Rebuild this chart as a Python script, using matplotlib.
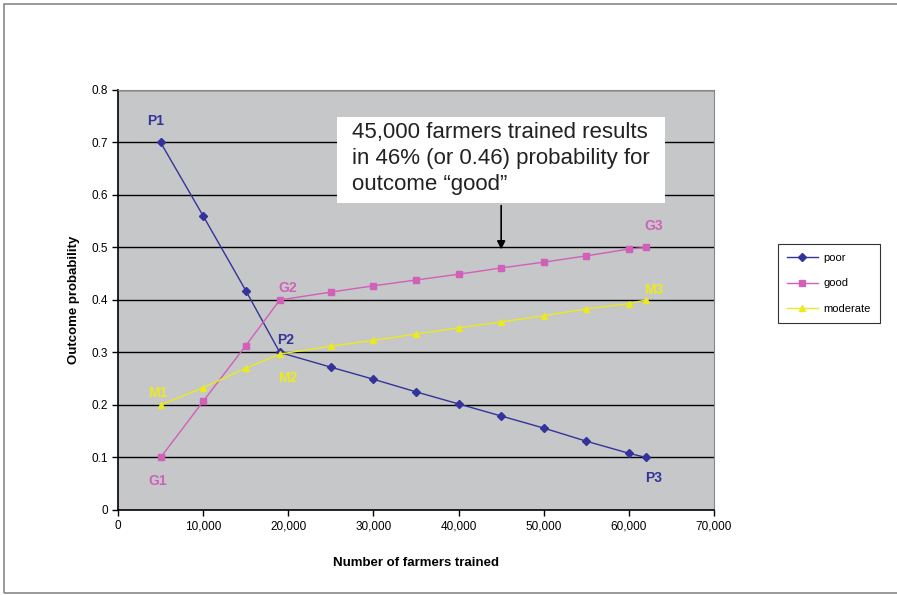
import matplotlib
matplotlib.use("Agg")
import matplotlib.pyplot as plt
from matplotlib.patches import Rectangle

farmers = [5000, 10000, 15000, 19000, 25000, 30000, 35000, 40000, 45000, 50000, 55000, 60000, 62000]
poor = [0.70, 0.56, 0.418, 0.30, 0.272, 0.249, 0.225, 0.202, 0.179, 0.156, 0.131, 0.108, 0.10]
good = [0.10, 0.207, 0.313, 0.40, 0.415, 0.427, 0.438, 0.449, 0.461, 0.472, 0.484, 0.497, 0.50]
moderate = [0.20, 0.233, 0.270, 0.297, 0.312, 0.323, 0.335, 0.347, 0.358, 0.370, 0.383, 0.393, 0.40]

xticks = [0, 10000, 20000, 30000, 40000, 50000, 60000, 70000]
xticklabels = ["0", "10,000", "20,000", "30,000", "40,000", "50,000", "60,000", "70,000"]
yticks = [0, 0.1, 0.2, 0.3, 0.4, 0.5, 0.6, 0.7, 0.8]
yticklabels = ["0", "0.1", "0.2", "0.3", "0.4", "0.5", "0.6", "0.7", "0.8"]

# point labels: (text, x, y, series)
point_labels = [
    ("P1", 5000, 0.70, "poor"), ("P2", 19000, 0.30, "poor"), ("P3", 62000, 0.10, "poor"),
    ("G1", 5000, 0.10, "good"), ("G2", 19000, 0.40, "good"), ("G3", 62000, 0.50, "good"),
    ("M1", 5000, 0.20, "moderate"), ("M2", 19000, 0.297, "moderate"), ("M3", 62000, 0.40, "moderate"),
]

annotation_text = "45,000 farmers trained results\nin 46% (or 0.46) probability for\noutcome \u201cgood\u201d"
annotation_x = 45000
annotation_target = 0.461

c_poor = "#33339a"
c_good = "#d060b8"
c_mod = "#eaea20"
colors = {"poor": c_poor, "good": c_good, "moderate": c_mod}

plt.rcParams["font.family"] = ["Liberation Sans", "DejaVu Sans"]

fig = plt.figure(figsize=(8.97, 5.95), dpi=100)
fig.patch.set_facecolor("white")
# outer frame
fig.add_artist(Rectangle((0.004, 0.004), 1.2, 0.99, transform=fig.transFigure,
                         fill=False, edgecolor="#888888", linewidth=1.2))

ax = fig.add_axes([0.1316, 0.1429, 0.6644, 0.7059])
ax.set_facecolor("#c6c7c9")
ax.set_xlim(0, 70000)
ax.set_ylim(0, 0.8)
for y in yticks[1:]:
    ax.axhline(y, color="black", linewidth=1.0, zorder=1)

ax.plot(farmers, poor, color=c_poor, marker="D", markersize=4.5, linewidth=1.0, label="poor", zorder=3)
ax.plot(farmers, good, color=c_good, marker="s", markersize=5, linewidth=1.0, label="good", zorder=3)
ax.plot(farmers, moderate, color=c_mod, marker="^", markersize=5, linewidth=1.0, label="moderate", zorder=3)

offsets = {
    "P1": (-600, 0.04), "P2": (700, 0.023), "P3": (900, -0.04),
    "G1": (-300, -0.045), "G2": (900, 0.022), "G3": (900, 0.04),
    "M1": (-300, 0.022), "M2": (900, -0.045), "M3": (900, 0.019),
}
for t, x, y, s in point_labels:
    dx, dy = offsets[t]
    ax.text(x + dx, y + dy, t, color=colors[s], fontsize=10, fontweight="bold",
            ha="center", va="center", zorder=4)

ax.set_xticks(xticks)
ax.set_xticklabels(xticklabels, fontsize=8.5)
ax.set_yticks(yticks)
ax.set_yticklabels(yticklabels, fontsize=8.5)
ax.tick_params(direction="out", length=4, width=1, colors="black")
for side in ["left", "bottom"]:
    ax.spines[side].set_color("black")
    ax.spines[side].set_linewidth(1.2)
for side in ["top", "right"]:
    ax.spines[side].set_color("#888888")
    ax.spines[side].set_linewidth(0.8)

ax.set_xlabel("Number of farmers trained", fontsize=9.5, fontweight="bold", labelpad=18)
ax.set_ylabel("Outcome probability", fontsize=9.5, fontweight="bold", labelpad=8)

# annotation box
ax.add_patch(Rectangle((0.367, 0.731), 0.551, 0.205, transform=ax.transAxes,
                       facecolor="white", edgecolor="none", zorder=5))
ax.text(0.392, 0.924, annotation_text, transform=ax.transAxes, fontsize=16,
        ha="left", va="top", linespacing=1.33, color="#222222", zorder=6)
ax.annotate("", xy=(annotation_x, annotation_target + 0.03), xytext=(annotation_x, 0.585),
            arrowprops=dict(arrowstyle="-|>", color="black", lw=1.2, mutation_scale=12), zorder=5)

leg = fig.legend(loc="upper left", bbox_to_anchor=(0.867, 0.590), frameon=True,
                 prop={"size": 8}, handlelength=2.8, handletextpad=0.5,
                 borderpad=0.8, labelspacing=1.4, fancybox=False, borderaxespad=0)
leg.get_frame().set_edgecolor("black")
leg.get_frame().set_linewidth(0.8)

fig.savefig("out.png", dpi=100)
